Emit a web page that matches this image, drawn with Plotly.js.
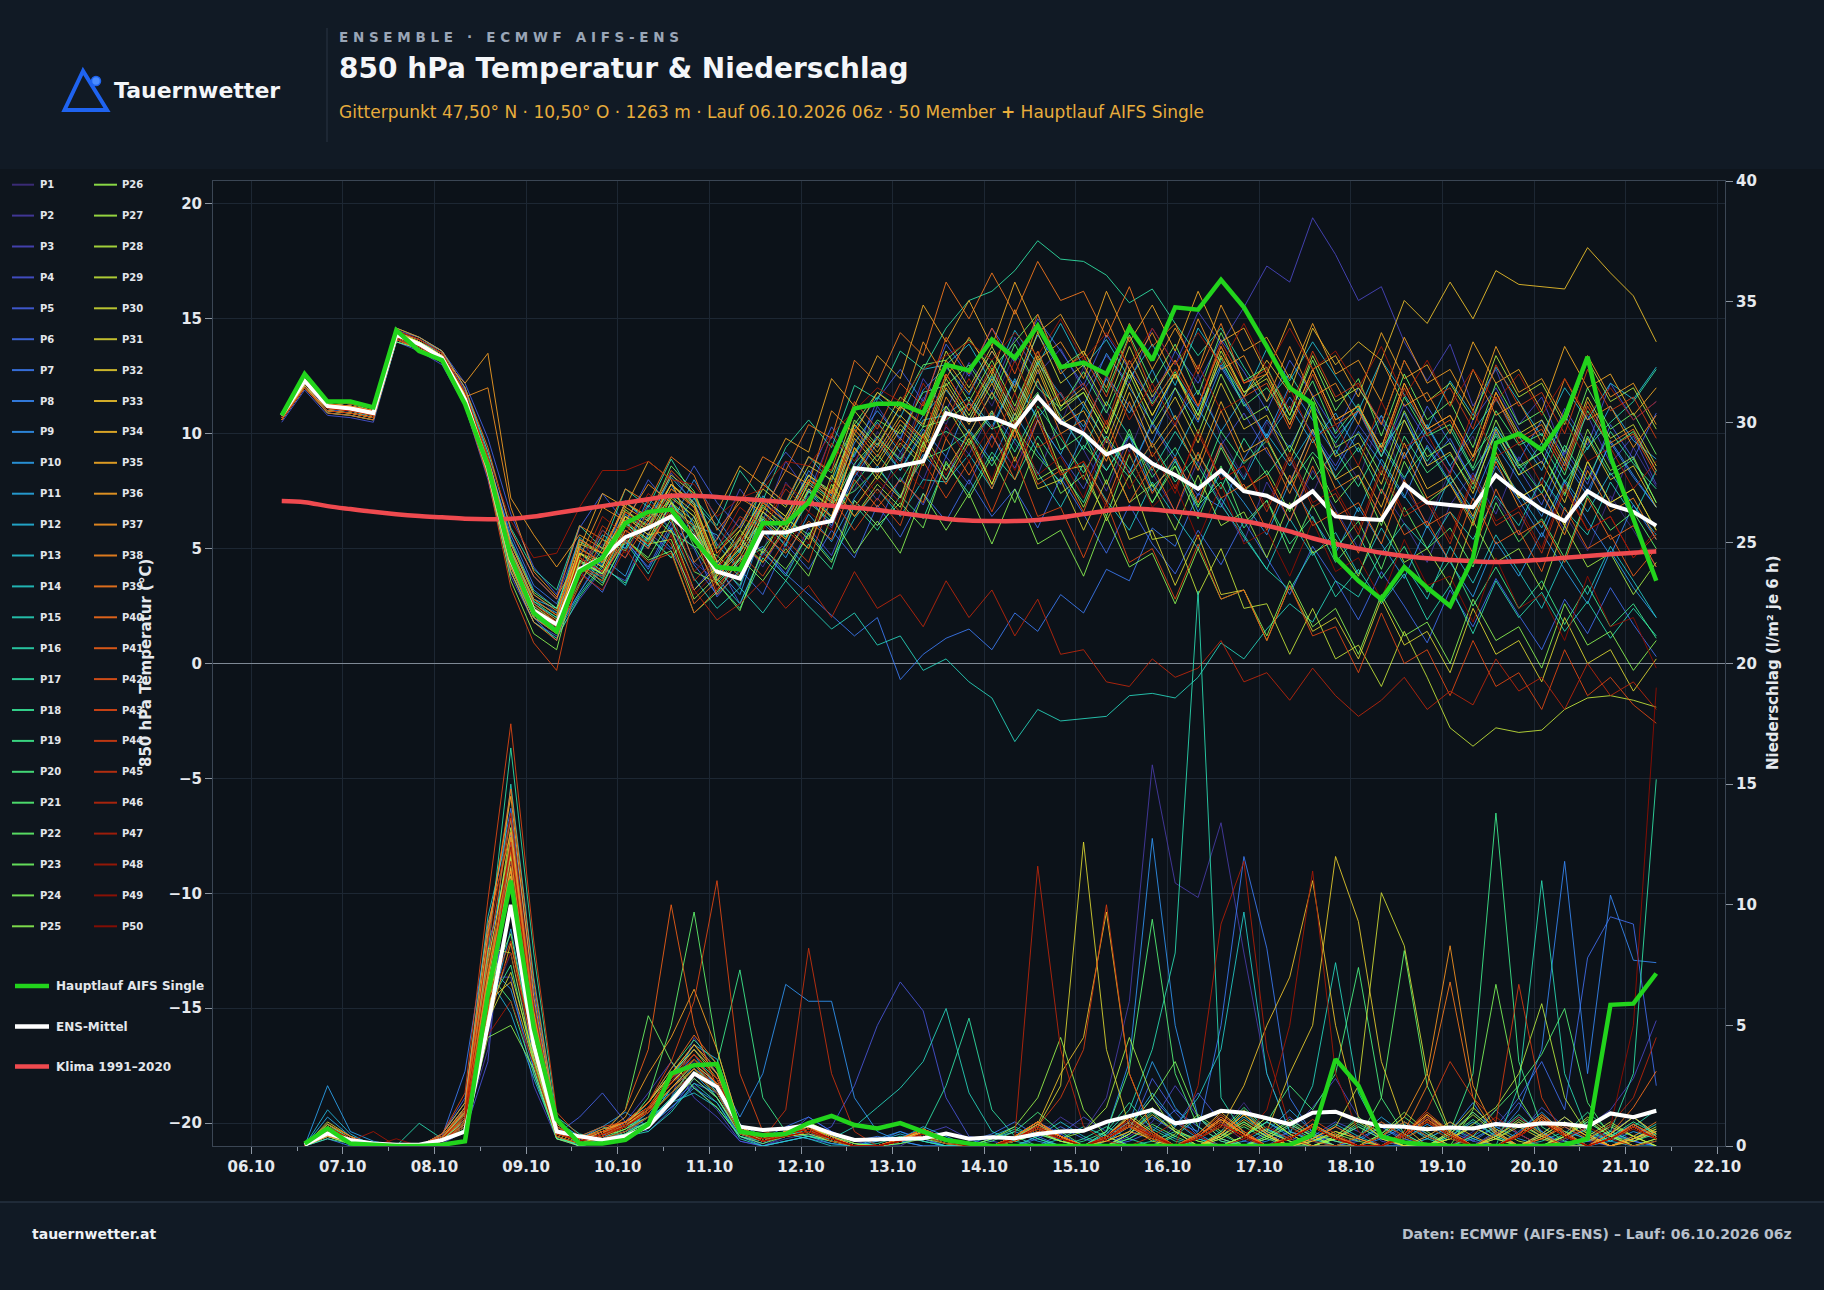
<!DOCTYPE html>
<html>
<head>
<meta charset="utf-8">
<script src="https://cdn.plot.ly/plotly-3.0.1.min.js"></script>
<style>
html,body{margin:0;padding:0;background:#0e151d;}
#chart{width:1824px;height:1290px;}
</style>
</head>
<body>
<div id="chart"></div>
<script>
// ---------- DATA ----------
// time grid: 61 six-hourly steps (local time), starting 06.10.2026 08:00
const runStart = [2026, 9, 6, 8];
const stepHours = 6;
const nSteps = 61;

// Hauptlauf AIFS Single, 850 hPa temperature (°C)
const hauptlaufTemp = [10.8,12.6,11.4,11.4,11.15,14.5,13.6,13.2,11.3,8.6,4.6,2.2,1.4,4.0,4.6,6.1,6.6,6.7,5.4,4.2,4.1,6.1,6.1,7.0,8.9,11.1,11.3,11.3,10.9,13.0,12.75,14.1,13.3,14.7,12.9,13.1,12.6,14.6,13.2,15.5,15.4,16.7,15.5,13.8,12.0,11.3,4.6,3.6,2.8,4.2,3.3,2.5,4.6,9.6,10.0,9.3,10.7,13.35,9.0,6.3,3.6];
// ENS mean temperature
const ensMeanTemp = [10.8,12.3,11.2,11.1,10.9,14.3,13.9,13.3,11.5,8.5,4.5,2.3,1.7,4.1,4.6,5.5,5.9,6.4,5.5,4.0,3.7,5.7,5.7,6.0,6.2,8.5,8.4,8.6,8.8,10.9,10.6,10.7,10.3,11.6,10.5,10.0,9.1,9.5,8.7,8.2,7.6,8.4,7.5,7.3,6.8,7.5,6.4,6.3,6.25,7.8,7.0,6.9,6.8,8.2,7.4,6.7,6.2,7.5,6.9,6.6,6.0];
// Klima 1991-2020
const climateTemp = [7.07,7.02,6.85,6.72,6.6,6.5,6.42,6.36,6.3,6.28,6.3,6.4,6.55,6.7,6.85,7.0,7.15,7.3,7.3,7.25,7.17,7.1,7.02,6.95,6.87,6.78,6.68,6.55,6.42,6.3,6.22,6.2,6.2,6.25,6.35,6.5,6.65,6.75,6.7,6.6,6.5,6.35,6.2,6.0,5.75,5.45,5.2,5.0,4.82,4.68,4.58,4.5,4.45,4.42,4.45,4.52,4.6,4.68,4.75,4.82,4.87];
// precipitation (l/m² per 6 h), steps 2..61
const hauptlaufPrecip = [0.1,0.73,0.1,0.05,0,0,0.05,0.2,6.3,11.0,4.9,1.1,0.1,0.1,0.25,0.9,3.0,3.35,3.4,0.6,0.45,0.5,0.95,1.25,0.87,0.73,0.95,0.6,0.25,0.1,0,0,0,0,0,0,0,0,0,0,0,0,0,0.05,0.46,3.6,2.5,0.4,0.15,0.05,0,0,0,0,0,0.05,0.3,5.85,5.9,7.15];
const ensMeanPrecip = [0.05,0.52,0.25,0.1,0.05,0.05,0.25,0.6,5.0,10.0,4.2,0.6,0.4,0.25,0.4,0.8,1.85,3.0,2.45,0.8,0.66,0.73,0.87,0.52,0.25,0.28,0.32,0.32,0.52,0.3,0.36,0.32,0.5,0.6,0.63,1.0,1.24,1.5,0.94,1.08,1.46,1.38,1.15,0.9,1.38,1.42,1.05,0.83,0.8,0.69,0.77,0.73,0.91,0.83,0.94,0.91,0.8,1.35,1.19,1.46];

// 50 perturbed members, temperature (61 values each)
const memberTemp = [
[10.6,12.0,11.0,10.9,10.7,14.1,13.8,13.2,11.8,9.0,5.2,3.0,2.2, 3.5,5.2,4.6,6.8,5.9,7.4,5.1,6.3,4.8,7.9,6.6,8.8,7.5,10.1,8.9,11.6,10.4, 12.8,11.2,13.5,12.1,10.4,12.9,11.0,9.2,11.7,10.3,12.6,9.8,8.1,10.5,8.8,7.4, 9.6,8.0,10.8,7.7,6.1,8.4,9.9,7.2,5.6,8.1,6.5,4.9,7.3,5.8,4.2],
[10.7,12.1,11.1,11.0,10.8,14.2,13.9,13.4,11.6,8.6,4.8,2.5,1.5, 3.1,4.8,6.2,5.0,6.9,4.4,3.6,5.5,4.2,6.0,7.3,5.9,8.4,7.1,9.2,8.0,10.3, 9.1,11.0,9.6,8.2,10.7,9.3,7.5,9.9,8.3,6.6,8.8,7.0,5.3,7.9,6.2,8.4, 6.7,5.0,7.6,6.1,4.4,6.9,8.3,6.5,9.0,7.4,5.8,8.6,7.0,9.4,7.7],
[10.8,12.2,11.3,11.2,11.0,14.4,14.0,13.5,11.9,9.2,5.8,3.8,2.8, 5.4,4.2,7.1,6.0,8.3,6.9,5.4,7.6,6.2,8.8,7.4,9.9,8.6,11.2,9.7,12.4,11.0, 13.1,11.8,14.2,12.6,13.7,11.9,13.4,12.2,14.6,13.0,15.3,13.9,15.5,17.3,16.6,19.4, 17.8,15.8,16.4,14.0,12.3,13.9,11.2,12.8,10.4,11.6,9.1,10.8,8.7,9.9,7.8],
[10.5,11.9,10.8,10.7,10.5,14.0,13.6,13.0,11.2,8.0,3.8,1.8,1.2, 2.8,4.1,3.6,5.7,4.9,3.2,4.4,2.6,4.8,3.9,5.9,4.7,7.1,6.0,8.1,6.9,9.0, 7.8,9.9,8.5,10.6,9.1,7.6,9.8,8.3,10.4,8.8,7.3,9.5,10.9,9.2,7.9,10.1, 8.6,10.4,9.0,11.3,9.7,8.3,10.6,12.0,10.2,8.7,11.1,9.5,12.2,10.6,11.4],
[10.9,12.4,11.4,11.3,11.1,14.5,14.2,13.6,12.2,9.8,6.5,4.2,3.0, 5.9,7.4,6.1,8.0,6.8,8.6,7.0,5.9,7.8,9.2,8.1,10.3,9.0,11.5,12.8,11.4,13.9, 12.5,14.6,13.1,15.0,13.6,12.1,14.3,12.8,11.4,13.6,12.2,14.1,12.7,11.0,13.2,11.7, 10.1,12.0,10.5,8.9,11.2,9.6,8.0,10.1,8.5,6.9,9.3,7.8,10.4,8.9,10.9],
[10.6,12.0,11.0,11.0,10.8,14.2,13.8,13.1,11.4,8.4,4.4,2.0,1.0, 4.0,3.1,5.3,4.2,6.1,5.0,2.9,4.1,3.0,5.2,4.1,5.8,4.6,6.9,5.5,7.4,6.2, 8.0,6.4,7.6,5.9,8.1,6.5,4.8,6.9,5.2,3.9,5.8,4.3,6.2,4.6,3.0,5.1, 3.6,1.9,4.0,2.5,0.9,3.2,1.6,3.7,2.1,0.6,2.8,1.3,3.3,1.7,0.3],
[10.7,12.2,11.1,11.0,10.8,14.3,13.9,13.4,11.6,8.8,5.6,3.4,2.6, 4.9,3.8,5.4,4.1,5.9,4.3,3.0,4.6,5.1,3.9,3.0,2.1,1.2,2.0,-0.7,0.4,1.1, 1.5,0.6,2.2,1.4,3.0,2.2,4.1,3.6,5.9,5.1,7.4,6.8,8.9,10.6,9.4,11.3, 9.8,11.0,9.0,10.9,8.6,9.8,7.9,10.3,8.8,10.6,9.0,7.5,9.6,8.1,6.8],
[10.8,12.3,11.2,11.2,10.9,14.3,14.0,13.3,11.6,8.5,4.6,2.4,1.6, 4.6,3.9,6.2,5.1,7.0,5.4,4.5,3.3,6.1,5.2,7.2,6.0,8.1,9.6,8.4,10.2,9.0, 11.4,10.2,12.3,10.7,11.8,10.1,12.5,11.2,9.6,12.0,10.5,12.9,11.3,9.8,11.6,10.0, 8.4,10.1,8.7,7.2,9.5,7.9,6.3,8.6,7.1,5.5,7.9,6.2,4.7,6.9,5.4],
[10.9,12.5,11.3,11.2,11.0,14.4,14.1,13.6,12.0,9.0,5.4,3.2,2.4, 4.0,5.8,5.0,7.2,6.1,8.0,6.3,4.9,7.3,6.2,8.4,7.3,9.6,11.0,9.8,11.9,12.9, 11.7,13.6,12.1,14.3,12.8,11.2,13.5,12.0,10.5,12.6,11.1,13.0,11.4,9.9,12.1,10.6, 9.1,11.0,9.4,8.0,10.3,8.6,7.1,9.5,8.0,6.4,8.8,7.3,9.7,8.2,6.8],
[10.6,12.1,10.9,10.8,10.6,14.0,13.7,13.1,11.2,8.2,4.0,2.0,1.4, 3.1,4.6,3.8,6.1,5.0,6.4,4.1,3.0,5.8,4.6,6.5,5.3,7.2,8.6,7.2,9.1,8.0, 10.2,8.8,10.9,9.2,7.8,10.0,8.4,9.9,7.5,8.9,6.6,8.3,7.0,5.6,7.9,6.3, 4.8,6.8,5.2,3.7,6.0,4.4,2.9,5.3,3.8,5.7,4.1,2.6,4.9,3.3,2.0],
[10.8,12.3,11.2,11.1,10.9,14.3,13.9,13.4,11.5,8.6,4.8,2.6,2.0, 5.1,4.3,6.5,5.8,7.8,6.0,5.6,4.0,7.1,6.1,8.2,7.0,9.1,10.5,9.2,10.8,11.9, 10.6,12.5,11.0,13.1,11.7,10.3,12.4,10.9,12.8,10.6,11.9,10.1,11.6,9.8,11.2,9.6, 10.9,9.2,10.8,9.0,10.4,8.6,10.1,11.5,9.9,8.4,10.8,9.3,11.2,9.7,8.9],
[10.7,12.2,11.1,11.0,10.8,14.2,13.8,13.2,11.5,8.7,4.9,2.7,2.2, 3.9,5.6,5.0,6.9,5.8,7.2,5.2,4.0,6.6,5.5,7.6,6.4,8.4,9.9,8.8,10.6,10.8, 11.6,10.3,12.4,10.6,9.1,11.2,9.7,8.3,10.5,9.0,11.1,9.5,8.0,10.0,8.6,10.2, 8.1,6.6,8.9,7.3,5.9,8.1,6.7,8.9,7.4,5.9,8.0,6.6,8.3,6.9,5.6],
[10.7,12.2,11.1,11.0,10.7,14.4,14.0,13.5,11.8,9.0,5.0,2.8,2.4, 5.5,4.6,7.0,6.2,8.1,7.0,5.9,4.8,7.9,6.9,9.0,7.9,10.2,11.6,10.7,12.8,13.0, 13.9,12.2,14.5,13.0,14.8,12.9,14.1,12.4,13.9,12.1,14.6,13.1,11.6,13.7,12.3,14.0, 12.5,11.0,13.2,11.7,10.2,12.3,10.8,12.9,11.4,9.9,12.0,10.6,12.2,11.5,12.9],
[10.8,12.4,11.3,11.2,10.9,14.3,13.9,13.3,11.5,8.4,4.3,2.1,1.3, 3.0,4.3,3.4,5.6,4.6,6.0,3.7,2.6,4.9,3.8,5.7,4.5,6.3,7.6,6.4,8.0,7.9, 9.1,7.6,9.8,8.3,6.8,8.7,7.1,5.8,7.9,6.4,5.0,7.2,5.6,4.1,6.3,4.7, 5.7,3.9,5.9,4.3,2.8,5.1,3.5,5.6,4.0,2.4,4.6,3.0,5.1,3.6,2.0],
[10.6,12.0,11.0,10.9,10.7,14.1,13.8,13.2,11.4,8.4,4.4,2.2,1.5, 4.5,3.5,5.3,3.9,5.8,3.7,2.4,3.3,2.2,3.6,2.5,1.5,2.2,0.8,1.2,-0.3,0.2, -0.8,-1.5,-3.4,-2.0,-2.5,-2.4,-2.3,-1.4,-1.3,-1.5,-0.6,0.9,0.2,1.5,2.6,1.8, 3.6,2.9,4.8,6.1,5.0,6.6,5.4,7.3,6.0,8.1,6.7,5.6,7.9,6.4,8.4],
[10.8,12.3,11.2,11.1,10.9,14.2,13.8,13.3,11.4,8.3,4.2,2.0,1.4, 4.5,3.7,6.0,5.1,7.0,5.7,3.9,4.9,6.3,5.1,7.5,6.3,8.3,9.8,8.4,10.0,11.2, 10.0,11.8,10.5,12.3,10.8,9.3,11.4,9.9,8.4,10.1,8.6,6.9,5.5,4.1,3.2,4.9, 2.9,4.1,2.6,3.9,1.9,3.4,1.3,3.6,2.0,3.1,1.4,2.7,1.1,2.4,1.2],
[10.9,12.5,11.4,11.3,11.1,14.6,14.2,13.6,12.0,9.2,5.9,4.1,3.2, 6.0,5.0,7.6,6.8,8.9,7.2,6.0,8.4,7.1,9.4,10.6,9.4,12.1,11.5,13.6,12.8,14.6, 15.8,16.2,17.1,18.4,17.6,17.5,16.9,15.7,16.3,14.8,13.4,14.6,12.9,11.4,12.6,11.0, 9.6,11.1,9.4,10.6,8.8,10.2,8.4,9.9,8.2,9.6,7.9,9.4,10.5,11.4,12.8],
[10.7,12.2,11.1,11.0,10.8,14.2,13.8,13.2,11.3,8.2,4.0,1.8,1.1, 2.9,4.2,3.5,5.5,4.6,5.9,3.5,2.4,4.6,3.6,5.2,4.1,6.9,5.8,7.3,6.3,8.7, 7.4,9.2,8.0,9.9,8.4,7.0,9.3,8.1,9.6,7.9,9.1,7.6,9.8,8.2,9.5,8.0, 9.3,7.7,9.6,8.1,9.4,7.8,9.0,10.3,8.7,7.4,9.5,8.0,10.1,8.7,7.6],
[10.8,12.3,11.2,11.1,10.9,14.3,13.9,13.3,11.6,8.6,4.6,2.4,1.8, 4.8,4.0,6.1,5.3,7.0,5.9,4.3,3.4,6.3,5.5,7.0,6.2,7.8,9.1,7.9,9.6,10.1, 9.5,10.9,9.2,11.2,9.8,8.3,9.9,8.5,7.0,8.8,6.9,7.9,5.9,7.1,5.2,6.4, 4.4,5.6,3.7,5.1,3.1,4.5,2.5,4.2,2.4,3.6,1.7,3.4,1.6,2.6,1.1],
[10.9,12.4,11.3,11.2,11.0,14.4,14.0,13.4,11.7,8.8,4.9,2.7,2.0, 4.0,5.4,4.9,6.6,5.7,5.1,3.5,4.5,5.0,6.3,5.6,7.0,7.5,8.5,7.3,8.9,9.3, 10.1,8.6,10.2,9.0,7.9,9.5,8.4,10.0,8.1,9.4,7.6,10.1,8.7,9.7,7.8,9.2, 8.1,9.4,7.4,9.9,8.3,9.1,7.6,10.0,8.5,9.2,7.3,9.9,8.2,8.9,7.0],
[10.6,12.1,11.0,10.9,10.7,14.1,13.7,13.1,11.3,8.3,4.2,2.0,1.3, 4.5,3.9,6.1,5.4,7.3,6.4,3.9,5.0,6.9,5.8,7.9,7.1,9.2,10.6,10.0,11.8,12.1, 13.0,11.5,13.9,12.0,11.1,12.7,10.9,13.2,11.3,12.7,10.8,13.3,11.2,12.0,10.6,12.3, 10.0,11.3,9.0,11.6,9.9,10.4,8.5,11.0,9.5,10.0,8.2,11.0,9.4,10.1,8.4],
[10.8,12.3,11.2,11.1,10.9,14.2,13.8,13.3,11.5,8.5,4.4,2.2,1.6, 3.5,5.0,5.2,6.3,7.1,5.1,4.7,3.8,6.6,5.8,7.5,6.8,8.7,9.8,8.9,10.3,10.6, 11.3,10.2,10.6,11.8,9.3,10.0,7.8,10.2,7.7,8.6,6.3,8.6,6.1,7.1,4.8,6.9, 5.0,6.2,4.1,6.8,5.0,5.9,4.2,7.0,5.3,6.3,4.6,7.3,5.8,6.6,5.0],
[10.7,12.2,11.1,11.0,10.8,14.3,13.9,13.4,11.6,8.7,5.3,3.1,2.4, 5.3,4.8,7.0,6.3,8.6,7.5,5.0,6.0,7.8,7.0,9.0,8.3,10.4,11.8,11.1,13.0,13.2, 14.1,12.8,14.0,15.2,12.9,13.6,11.8,14.3,12.2,13.9,11.7,14.4,12.3,12.9,10.8,13.2, 11.0,12.4,9.9,12.6,10.6,11.4,9.4,12.2,10.4,11.0,9.2,12.0,10.2,10.9,9.1],
[10.9,12.5,11.4,11.3,11.0,14.4,14.0,13.3,11.5,8.4,4.3,2.1,1.5, 4.2,3.4,5.4,4.6,6.3,4.0,3.5,2.3,5.0,4.1,5.6,4.4,7.1,6.0,7.0,5.9,8.8, 7.2,9.0,7.0,9.6,7.4,8.2,6.4,9.1,7.0,8.6,6.8,9.4,7.5,8.4,6.6,9.0, 7.0,8.2,6.0,8.8,7.0,7.8,6.2,9.0,7.2,7.8,6.0,8.8,7.0,7.6,5.8],
[10.6,12.0,10.9,10.8,10.6,14.0,13.7,13.2,11.3,8.3,3.6,1.3,0.6, 4.4,3.9,5.4,4.5,4.9,2.2,3.1,4.6,3.6,5.0,3.8,6.4,4.8,6.2,4.8,7.4,5.8, 7.4,5.2,7.6,5.2,5.8,3.8,6.4,4.2,4.8,2.6,5.0,2.8,3.2,1.2,3.6,1.6, 2.4,0.4,3.0,1.2,1.8,0.0,2.8,1.0,1.6,-0.2,2.6,0.8,1.4,-0.3,1.0],
[10.8,12.3,11.2,11.1,10.9,14.3,13.9,13.3,11.6,8.6,4.6,2.4,1.7, 5.0,4.4,6.7,5.9,7.8,6.9,4.4,5.5,7.2,6.4,8.2,7.5,10.6,9.5,11.2,10.3,13.0, 11.4,13.2,11.2,13.6,11.2,11.8,10.0,12.6,10.4,12.0,10.0,12.6,10.6,11.2,9.2,11.6, 9.4,10.0,8.2,11.0,9.0,9.6,7.8,10.6,8.6,9.2,7.4,10.2,8.4,9.0,7.0],
[10.7,12.2,11.1,11.0,10.8,14.2,13.8,13.2,11.4,8.4,4.4,2.2,1.5, 4.8,4.4,6.0,5.2,5.4,2.8,3.8,5.4,4.4,6.0,5.0,7.8,6.4,7.8,6.8,9.6,8.0, 9.8,7.8,10.4,8.0,8.6,6.8,9.2,7.0,7.8,5.8,8.2,6.0,6.6,4.6,7.0,4.8, 5.4,3.8,6.4,4.4,5.0,3.4,6.2,4.4,5.0,3.2,6.0,4.2,4.8,3.0,4.4],
[10.9,12.4,11.3,11.2,11.0,14.4,14.0,13.4,11.6,8.6,4.7,2.5,1.8, 4.8,4.2,6.4,5.8,7.6,6.8,4.2,5.2,7.0,6.2,8.0,7.2,10.2,9.0,10.6,9.6,12.4, 10.8,12.6,10.6,13.2,11.0,11.8,10.0,12.8,10.8,12.6,10.8,13.6,11.8,12.6,10.8,13.4, 11.4,12.0,10.4,13.2,11.4,12.2,10.6,13.4,11.6,12.2,10.4,13.2,11.4,12.0,10.2],
[10.7,12.1,11.0,10.9,10.7,14.2,13.8,13.2,11.4,8.4,4.3,2.1,1.4, 4.5,3.9,6.0,5.2,7.0,6.2,3.6,4.6,6.4,5.4,7.2,6.4,9.4,8.0,9.6,8.6,11.2, 9.6,11.0,8.8,11.0,8.4,8.6,6.2,8.2,5.4,5.6,3.0,5.0,2.4,2.6,0.4,2.4, 0.2,0.8,-1.0,1.4,-0.6,-2.8,-3.6,-2.8,-3.0,-2.9,-2.0,-1.5,-1.4,-1.6,-1.9],
[10.8,12.3,11.2,11.1,10.9,14.4,14.0,13.4,11.7,8.8,5.0,2.8,2.1, 5.4,4.8,7.0,6.4,8.2,7.4,4.8,5.8,7.6,6.8,8.6,8.0,11.0,9.8,11.6,10.8,13.6, 12.0,13.8,11.8,14.4,12.2,13.0,11.2,13.8,11.6,13.2,11.2,13.8,11.8,12.4,10.4,12.8, 10.6,11.2,9.4,12.2,10.2,10.8,9.0,11.8,10.0,10.6,8.8,11.6,9.8,10.4,8.6],
[10.6,12.0,11.0,10.9,10.7,14.1,13.7,13.2,11.4,8.5,4.5,2.3,1.6, 5.2,4.8,6.4,5.6,5.8,3.2,4.2,5.8,4.8,6.4,5.4,8.2,6.8,8.2,7.2,10.0,8.4, 10.0,7.8,10.2,7.6,8.0,5.8,8.0,5.4,5.8,3.4,5.6,3.0,3.2,1.0,3.4,1.4, 2.0,0.2,2.8,0.8,1.4,-0.4,2.4,0.4,1.0,-0.8,2.0,0.0,0.6,-1.2,0.2],
[10.8,12.3,11.2,11.1,10.9,14.3,13.9,13.3,11.5,8.5,4.5,2.3,1.6, 4.8,4.2,6.4,5.6,7.4,6.6,4.0,5.0,6.8,6.0,7.8,7.0,10.0,8.8,10.4,9.4,12.2, 10.6,12.4,10.4,13.0,10.6,11.4,9.6,12.2,10.0,11.6,9.6,12.2,10.2,10.8,8.8,11.2, 9.0,9.6,7.8,10.6,8.6,9.2,7.4,10.2,8.2,8.8,7.0,9.8,8.0,8.6,6.8],
[10.9,12.4,11.3,11.2,11.0,14.4,14.0,13.4,11.7,8.7,4.8,2.6,1.9, 5.0,4.4,6.6,6.0,7.8,7.0,4.4,5.4,7.2,6.4,8.2,7.4,10.4,9.2,10.8,9.8,12.6, 11.0,12.8,10.8,13.4,11.2,12.0,10.2,12.8,10.8,12.6,10.6,13.4,11.6,13.2,11.8,14.6, 13.0,14.0,13.2,15.8,14.8,16.6,15.0,17.1,16.5,16.4,16.3,18.1,17.0,16.0,14.0],
[10.7,12.2,11.1,11.0,10.8,14.2,13.8,13.2,11.4,8.4,4.4,2.2,1.5, 4.6,4.0,6.2,5.4,7.2,6.4,3.8,4.8,6.6,5.8,7.6,6.8,9.8,8.6,10.2,9.2,12.0, 10.4,12.2,10.2,12.8,10.4,11.0,9.2,11.8,9.4,10.8,8.8,11.4,9.2,9.8,7.8,10.2, 8.0,8.6,6.8,9.6,7.6,8.2,6.4,9.2,7.2,7.8,6.0,8.8,7.0,7.6,5.8],
[10.8,12.4,11.3,11.2,11.0,14.4,14.1,13.5,11.8,9.0,5.2,3.0,2.3, 5.0,7.4,6.8,8.8,8.0,5.4,6.6,8.6,7.8,9.8,9.2,12.4,11.2,13.4,12.4,15.6,14.0, 15.8,13.8,16.6,14.4,15.2,13.4,16.2,14.0,15.6,13.6,16.2,14.0,14.6,12.6,15.0,12.8, 13.4,11.6,14.4,12.4,13.0,11.2,14.0,12.2,12.8,11.0,13.8,12.0,12.6,10.8,12.0],
[10.8,12.3,11.2,11.1,10.9,14.3,13.9,13.3,12.2,13.5,7.2,5.6,4.2, 5.6,5.0,6.8,6.2,7.8,6.8,4.2,5.2,7.0,6.2,8.0,7.4,10.4,9.4,11.2,10.4,13.2, 11.8,13.6,12.0,14.8,12.6,13.6,12.0,14.8,12.8,14.6,12.8,15.6,13.6,14.2,12.4,14.8, 12.6,13.2,11.4,14.2,12.2,12.8,11.0,13.8,11.8,12.4,10.6,13.4,11.6,12.2,10.4],
[10.7,12.2,11.1,11.0,10.8,14.2,13.8,13.2,11.6,12.0,6.8,4.0,2.9, 4.6,6.8,6.2,7.8,7.0,4.4,5.4,7.2,6.6,8.4,7.8,11.0,10.0,11.8,11.0,14.0,12.4, 14.2,12.6,15.4,13.2,14.0,12.4,15.0,12.8,14.4,12.4,15.0,12.8,13.4,11.4,13.8,11.6, 12.2,10.4,13.2,11.2,11.8,10.0,12.8,10.8,11.4,9.6,12.4,10.6,11.2,9.4,10.8],
[10.6,12.1,11.0,10.9,10.7,14.1,13.7,13.2,11.3,8.2,4.0,1.8,1.0, 4.2,3.6,5.8,5.0,6.8,6.0,3.4,4.4,6.2,5.4,7.2,6.4,9.4,8.2,9.8,8.8,11.6, 10.0,11.8,9.8,12.4,10.0,10.6,8.8,11.4,9.0,10.4,8.4,11.0,8.8,9.4,7.4,9.8, 7.6,8.2,6.4,9.2,7.2,7.8,6.0,8.8,6.8,7.4,5.6,8.4,6.6,7.2,5.4],
[10.9,12.6,11.4,11.3,11.1,14.6,14.2,13.6,12.0,9.4,5.8,3.8,2.8, 6.0,5.4,7.6,7.0,9.0,8.2,5.8,7.0,9.0,8.4,10.4,9.8,13.2,12.2,14.4,13.4,16.6, 15.0,17.0,15.2,17.5,15.8,16.2,14.2,16.4,13.8,14.8,12.6,14.8,12.2,12.6,10.4,12.8, 10.6,11.2,9.4,12.2,10.2,10.8,9.0,11.8,9.8,10.4,8.6,11.4,9.6,10.2,8.4],
[10.7,12.2,11.1,11.0,10.8,14.2,13.8,13.2,11.5,8.5,4.5,2.3,1.6, 4.6,4.0,5.8,5.2,6.6,5.6,3.0,4.0,5.6,4.8,6.2,5.4,8.0,6.8,8.0,7.0,9.8, 8.2,10.0,8.0,10.6,8.2,8.8,7.0,9.6,7.4,9.0,7.0,9.6,7.6,8.2,6.2,8.6, 6.4,7.0,5.2,8.0,6.0,6.6,4.8,7.6,5.6,6.2,4.4,7.2,5.4,6.0,4.2],
[10.8,12.3,11.2,11.1,10.9,14.3,13.9,13.3,11.4,8.3,4.2,2.0,1.3, 3.4,5.4,4.6,6.2,5.2,2.6,3.6,5.2,4.4,5.8,5.0,7.6,6.4,7.6,6.6,9.4,7.8, 9.6,7.6,10.2,7.8,8.4,6.6,9.2,7.0,8.6,6.6,9.2,7.2,7.8,5.8,8.2,6.0, 6.6,4.8,7.6,5.6,6.2,4.4,7.2,5.2,5.8,4.0,6.8,5.0,5.6,3.8,5.0],
[10.9,12.5,11.4,11.3,11.1,14.5,14.1,13.5,11.8,8.9,5.0,2.8,2.1, 5.4,4.8,7.0,6.4,8.4,7.4,4.8,6.0,7.8,7.0,9.0,8.4,11.4,10.2,12.2,11.2,14.2, 12.6,14.6,12.6,15.2,12.8,13.4,11.6,14.2,11.8,13.2,11.2,13.8,11.6,12.2,10.2,12.6, 10.4,11.0,9.2,12.0,10.0,10.6,8.8,11.6,9.6,10.2,8.4,11.2,9.4,10.0,8.2],
[10.6,12.0,10.9,10.8,10.6,14.1,13.7,13.1,11.2,8.1,3.3,0.9,-0.3, 4.2,3.8,5.4,4.4,4.8,2.2,3.2,4.8,3.8,5.4,4.4,7.2,5.8,7.2,6.0,8.8,7.2, 8.8,6.6,9.0,6.4,6.8,4.6,7.0,4.4,5.0,2.8,5.2,2.8,3.2,1.0,3.4,1.2, 1.6,-0.4,2.2,0.0,0.6,-1.4,1.0,-1.0,-0.4,-2.0,0.6,-1.4,-0.6,-1.8,-2.6],
[10.8,12.4,11.3,11.2,11.0,14.3,13.9,13.4,11.6,8.6,4.6,2.4,1.8, 5.0,4.4,6.6,5.8,7.6,6.8,4.2,5.2,7.0,6.2,8.0,7.2,10.2,9.0,10.6,9.8,12.6, 11.0,13.0,11.0,13.6,11.4,12.2,10.4,13.2,11.2,12.8,11.2,14.0,12.2,12.8,11.0,13.6, 11.6,12.2,10.4,13.2,11.4,12.0,10.2,13.0,11.2,11.8,10.0,12.8,11.0,11.6,9.8],
[10.7,12.2,11.1,11.0,10.8,14.2,13.8,13.2,11.4,8.4,4.3,2.1,1.4, 3.8,6.0,5.2,7.0,6.2,3.6,4.6,6.4,5.8,7.6,6.6,9.6,8.2,9.8,8.6,11.4,9.8, 11.4,9.4,11.8,9.4,10.0,8.0,10.6,8.2,9.6,7.6,10.0,8.0,8.6,6.6,9.0,6.8, 7.4,5.6,8.4,6.4,7.0,5.2,8.0,6.0,6.6,4.8,7.6,5.8,6.4,4.6,5.6],
[10.6,12.0,11.0,10.9,10.7,14.1,13.8,13.2,11.3,8.3,4.8,2.6,1.8, 3.9,3.2,5.0,3.6,5.6,3.2,1.9,2.6,3.6,2.4,3.4,2.0,4.0,2.4,3.0,1.6,3.6, 2.0,3.2,1.2,2.8,0.4,0.6,-0.8,-1.0,0.2,-0.6,-0.2,1.0,-0.8,-0.4,-1.6,-0.2, -1.4,-2.3,-1.6,-0.6,-2.0,-1.2,-1.8,0.2,-1.2,-0.6,-2.0,0.0,-1.4,-0.8,-2.0],
[10.8,12.3,11.2,11.1,10.9,14.3,13.9,13.3,11.5,8.5,4.5,2.3,1.6, 4.2,6.4,5.6,7.4,6.6,4.0,5.0,6.8,6.0,7.8,7.0,10.0,8.8,10.4,9.4,12.2,10.6, 12.4,10.6,13.2,11.0,11.8,10.0,12.6,10.6,12.2,10.4,13.0,11.0,11.6,9.6,12.0,9.8, 10.4,8.6,11.4,9.4,10.0,8.2,11.0,9.0,9.6,7.8,10.6,8.8,9.4,7.6,8.8],
[10.9,12.5,11.4,11.3,11.1,14.5,14.1,13.5,11.8,9.0,6.2,4.6,4.8, 6.8,8.4,8.4,8.8,8.0,7.8,6.4,7.2,7.6,8.8,8.6,10.0,11.0,12.0,11.4,12.8,13.4, 14.0,13.2,14.4,13.4,15.0,13.2,14.4,13.0,14.6,13.0,14.4,13.0,14.8,12.8,14.6,12.8, 13.6,12.0,13.8,11.6,13.2,11.2,12.8,11.4,12.6,10.8,12.4,10.8,12.0,10.6,11.4],
[10.7,12.2,11.1,11.0,10.8,14.2,13.8,13.2,11.4,8.4,4.4,2.2,1.5, 3.6,5.8,4.8,6.6,5.6,3.0,4.0,5.6,4.6,6.2,5.2,8.0,6.8,8.0,7.0,9.8,8.2, 10.0,8.0,10.6,8.2,9.0,7.2,9.8,7.6,9.2,7.4,10.2,8.0,8.6,6.8,9.2,7.0, 7.6,5.8,8.6,6.6,7.2,5.4,8.2,6.2,6.8,5.0,7.8,5.8,6.4,4.6,5.8],
[10.8,12.3,11.2,11.1,10.9,14.3,13.9,13.3,11.5,8.5,4.5,2.3,1.6, 4.6,4.0,6.0,5.2,6.8,5.8,3.2,4.2,6.0,5.0,6.6,5.8,8.6,7.4,8.6,7.6,10.4, 8.8,10.4,8.4,10.8,8.2,8.8,6.8,9.2,6.8,7.8,5.4,7.8,5.2,5.8,3.8,6.2, 4.0,4.6,2.8,5.4,3.4,3.8,1.8,4.6,2.4,3.0,1.0,3.8,1.6,2.0,-0.2]
];

// 50 perturbed members, precipitation (60 values each, steps 2..61)
const memberPrecip = [
[0,0.4,0.1,0,0,0,0.3,1.2,5.5,8.0,3.8,0.6, 0.2,0.4,0.8,1.5,2.8,3.5,2.2,0.5,0.2,0.6,0.8,0.3,0,0,0.2,0.4,0.1,0, 0,0.3,0.8,0.2,0,0.5,1.2,0.4,0,0,0.6,1.8,0.5,0,0.2, 0.8,0.3,0,0,0.4,1.0,0.3,0,0,0.5,0.2,0,0.6,1.2,0.4],
[0,0.6,0.2,0,0,0,0.2,0.8,4.0,12.5,5.2,0.4, 0,0.2,0.5,1.0,2.0,4.5,3.0,0.6,0,0.3,0.5,0.2,0,0,0.3,0.6,0.2,0, 0,0,0.4,1.2,0.6,2.0,6.0,15.8,10.9,10.3,13.4,8.0,3.0,0.6,0.2, 0,0.4,1.0,0.3,0,0,0.6,1.5,0.5,0,0,0.3,0.8,0.2,0],
[0,0.8,0.2,0,0,0,0.4,1.5,7.0,7.0,2.5,0.3, 0,0.3,1.0,2.2,3.5,2.0,1.2,0.2,0,0.4,1.2,0.6,0.2,0,0,0.5,0.8,0.3, 0,0.2,0.6,0.2,0,0,0.4,1.0,2.5,1.2,0.3,0,0,0.6,1.6, 2.8,1.2,0.2,0,0,0.5,1.4,0.6,0,0,0.2,0.8,1.5,2.8,5.2],
[0,0.5,0.1,0,0,0,0.1,0.6,3.5,13.0,6.0,0.8, 0.3,0.1,0.2,0.8,1.6,2.5,1.5,0.2,0,0.2,0.4,0.8,2.5,5.0,6.8,5.6,2.0,0.4, 0.2,0,0,0.5,1.2,0.6,0,0,0.8,2.2,1.0,0.2,0,0,0.4, 1.0,0.6,0,0,0.3,0.8,0.2,0,0.5,1.6,0.8,0.2,0,0.3,0.6],
[0,0.4,0.2,0,0,0,0.5,2.0,8.5,11.0,3.0,0.5, 1.2,2.2,1.0,0.6,1.5,2.8,2.0,0.4,0.1,0.5,0.3,0.1,0,0.2,0.6,0.3,0,0, 0,0.4,1.0,0.5,0,0,0.6,2.8,1.4,0.4,0,0,0.5,1.2,0.4, 0,0,0.4,1.0,0.5,0,0,0.6,1.8,0.6,0,0.2,0.5,0.2,0],
[0,0.7,0.3,0,0,0,0.2,1.0,6.0,12.0,4.5,0.6, 0.2,0.5,0.3,1.0,2.4,3.2,2.6,0.8,0.3,0.6,0.9,0.4,0.1,0,0.2,0.3,0,0, 0,0,0.3,0.8,0.3,0,0.2,0.6,1.5,0.8,0.2,0,0.3,0.9,0.4, 0.2,0,0,0.4,1.2,0.6,0.2,0.8,2.0,3.5,1.5,7.8,9.5,9.2,2.5],
[0,0.3,0,0,0,0,0.4,3.1,9.0,14.0,6.5,1.0, 0.4,0.2,0.5,1.2,1.8,2.6,2.2,0.6,0.3,0.8,1.2,0.6,0.2,0.4,0.2,0,0,0.2, 0.5,1.0,0.4,0,0,0.3,0.8,2.0,1.0,0.6,5.0,12.0,8.2,2.0,0.5, 0,0.2,0.8,0.3,0,0,0.4,1.0,0.5,0,0,0.3,0.6,0.2,0],
[0,0.5,0.2,0,0,0,0.3,1.4,6.5,11.5,4.0,0.4, 0,0.3,0.6,1.4,2.6,3.8,2.4,0.5,0.2,0.4,0.6,0.3,0,0,0.2,0.5,0.3,0, 0,0.2,0.6,0.3,0,0,0.5,1.2,0.6,0,0,0.4,1.0,0.4,0, 0,0.3,0.8,0.2,0,0.6,1.8,0.4,1.5,4.0,11.8,3.0,10.4,7.7,7.6],
[0,0.6,0.2,0,0,0,0.2,1.1,7.5,6.5,3.2,0.3, 0.1,0.4,0.9,1.8,3.0,4.0,3.0,1.2,3.0,6.7,6.0,6.0,2.0,0.6,0.2,0,0,0, 0,0.3,0.9,0.4,0,0.6,3.5,12.75,5.0,1.2,0.3,0,0.2,0.6,0.3, 0,0,0.3,0.8,0.4,0,0,0.5,1.2,0.6,0,0,0.4,0.9,0.3],
[0,2.5,0.6,0.2,0,0,0.4,1.6,8.0,12.5,4.8,0.7, 0.3,0.8,1.4,0.8,1.6,2.4,1.8,0.4,0,0.2,0.4,0.2,0,0.3,0.6,0.2,0,0, 0.3,0.6,0.2,0,0,0.4,1.0,3.5,1.6,0.5,0,0,0.6,1.5,0.6, 0.2,0,0,0.3,0.9,0.4,0,0,0.6,1.4,0.5,0,0.2,0.6,0.3],
[0,1.2,0.4,0.1,0,0,0.3,0.9,5.0,9.0,4.0,0.5, 0.2,0.6,1.0,1.6,2.2,3.0,2.0,0.6,0.2,0.5,0.8,0.4,0,0,0.3,0.8,0.4,0, 0,0.4,0.8,0.3,0,0.2,0.8,2.2,1.0,0.3,0,0.2,0.7,0.3,0, 0,0.4,1.2,0.5,0,0,0.3,0.8,0.3,0,0.4,1.0,0.4,0,0.2],
[0,1.5,0.5,0,0,0,0.2,1.2,7.0,5.5,2.8,0.4, 0,0.2,0.6,1.2,2.8,4.2,3.6,0.9,0.4,0.6,0.4,0.1,0,0.2,0.5,0.2,0,0.1, 0.4,0.8,0.3,0,0,0.3,0.9,0.4,0,0,0.5,1.4,0.6,0.2,0, 0.3,0.8,0.3,0,0,0.4,1.0,0.4,0,0,0.3,0.7,0.2,0,0],
[0,0.9,0.3,0,0,0,0.3,1.3,7.8,11.8,4.4,0.6, 0.1,0.3,0.5,1.0,2.0,3.4,2.6,0.7,0.2,0.4,0.7,0.3,0,0,0.1,0.4,0.2,0, 0,0,0.4,1.0,0.4,0,0.3,0.8,0.3,0,0.4,1.2,0.5,0,0.3, 0.9,0.4,0,0,0.3,0.8,0.3,0,0,0.5,1.2,0.5,0,0.3,0.6],
[0,0.8,0.3,0,0,0,0.5,1.8,9.5,13.5,5.5,0.8, 0.3,0.6,0.8,1.2,1.8,2.2,1.6,0.4,0.2,0.5,0.3,0,0,0,0.3,0.6,0.2,0, 0,0.3,0.6,0.2,0,0,0.5,1.5,0.8,2.0,4.0,9.7,3.0,0.6,0.2, 0,0,0.4,0.9,0.3,0,0,0.4,1.0,0.4,0,0,0.5,1.2,0.4],
[0,0.6,0.2,0,0,0,0.2,0.8,6.0,15.0,7.0,1.0, 0.4,0.8,0.4,0.6,1.4,2.6,1.8,0.3,0,0.2,0.4,0.3,0.8,1.6,2.4,3.5,5.7,2.2, 0.6,0.2,0,0.3,0.8,0.4,0,0.2,0.6,0.3,0,0.4,1.0,0.5,2.5, 7.6,2.2,0.4,0,0,0.3,0.8,0.3,0,0.2,0.6,0.3,0,0.4,0.9],
[0,0.5,0.2,0,0,0.94,0.3,1.0,5.5,9.8,3.6,0.4, 0,0.2,0.5,1.0,2.4,3.4,2.2,0.6,0.3,0.6,0.9,0.4,0,0,0.2,0.5,0.2,0, 0,0.3,0.8,0.4,0,0.5,1.5,4.0,8.0,23.0,2.0,0.5,0,0.3,0.8, 0.4,0,0,0.5,1.2,0.5,0,0,2.5,11.0,3.0,0.6,0.2,0.8,1.5],
[0,0.4,0.1,0,0,0,0.4,1.5,8.0,16.5,8.0,1.2, 0.5,0.3,0.6,1.0,2.0,3.0,2.6,0.6,0.2,0.5,0.8,0.4,0,0,0.2,0.6,2.5,5.3, 1.5,0.4,0,0,0.3,0.8,0.3,0,0.4,1.2,0.5,0,0.3,0.8,0.3, 0,0,0.4,1.0,0.4,0,0,0.5,1.3,0.5,0,0.2,0.6,3.0,15.2],
[0,0.7,0.2,0,0,0,0.2,0.9,5.8,7.5,3.4,0.5, 0.2,0.5,0.8,1.4,2.6,3.6,2.8,0.7,0.2,0.4,0.6,0.2,0,0.1,0.4,0.2,0,0, 0.3,0.7,0.3,0,0.2,0.6,1.8,0.7,0.2,0,0.4,1.0,0.4,0,0, 0.3,0.9,0.4,0,0,0.4,1.1,0.4,0,0,0.5,1.4,0.6,0.2,0.5],
[0,0.3,0.1,0,0,0,0.3,1.1,6.8,12.0,4.6,0.6, 0.3,0.6,1.0,1.8,3.2,4.4,3.4,7.3,2.0,0.6,0.4,0.2,0,0,0.3,0.7,0.3,0, 0,0.2,0.5,0.2,0,0.3,0.9,0.4,0,0,0.6,1.6,0.7,0.2,0, 0.4,1.2,0.5,0,0,0.6,3.0,13.8,3.5,0.8,0.2,0,0.4,1.0,0.5],
[0,0.9,0.3,0,0,0,0.4,1.3,7.2,6.0,3.0,0.3, 0.1,0.3,0.7,1.4,2.4,3.2,2.0,0.5,0.2,0.5,0.7,0.3,0,0,0.2,0.5,0.2,0, 0.2,0.6,1.4,0.6,0,0,0.5,1.4,0.6,0.2,0,0.4,1.0,2.5,1.5, 3.0,7.4,2.0,0.5,0,0.3,0.8,0.3,0,0.4,1.0,0.4,0,0.3,0.7],
[0,0.6,0.2,0,0,0,0.3,1.2,6.2,11.0,4.2,0.5, 0.2,0.4,0.8,1.6,2.8,3.8,2.8,0.7,0.3,0.6,0.8,0.3,0,0,0.2,0.5,0.3,0, 0,0.3,0.7,0.3,0,0.6,3.2,9.4,3.0,0.8,0.2,0,0.4,1.0,0.4, 0,0,0.5,1.2,0.5,0,0.4,1.5,2.5,3.8,5.7,1.8,0.4,0.2,0.6],
[0,0.5,0.2,0,0,0,0.2,0.7,4.8,12.2,5.4,0.7, 0.2,0.4,0.8,2.0,5.0,9.7,4.0,0.8,0.3,0.5,0.7,0.3,0,0,0.3,0.7,0.3,0, 0,0.4,1.0,0.4,0,0,0.3,0.9,0.4,0,0.3,0.8,0.3,0,0.2, 0.6,0.3,2.0,8.1,2.5,0.5,0,0.3,0.9,0.4,0,0,0.5,1.2,0.5],
[0,0.4,0.1,0,0,0,0.3,1.0,6.6,8.8,3.9,0.5, 0.2,0.5,1.5,5.4,3.5,2.4,1.6,0.4,0.1,0.4,0.6,0.3,0,0,0.2,0.4,0.1,0, 0,0.2,0.6,0.3,0,0.4,1.2,0.5,0,0,0.5,1.3,0.5,0,0, 0.3,0.8,0.3,0,0,0.5,1.4,0.6,0,0,0.4,1.0,0.4,0,0.3],
[0,0.8,0.3,0,0,0,0.4,1.4,7.4,12.8,5.0,0.6, 0.3,0.7,1.0,1.6,2.6,3.4,2.4,0.6,0.2,0.5,0.8,0.4,0.1,0,0.2,0.6,0.3,0, 0,0.4,0.9,0.4,0,0.3,0.8,2.0,3.5,1.2,0.3,0,0.4,1.1,0.5, 0.2,0,0.4,1.0,0.4,0,1.5,6.7,2.0,0.5,0,0.3,0.9,0.4,0],
[0,0.5,0.2,0,0,0,0.2,0.6,4.5,5.0,3.2,0.3, 0,0.2,0.5,1.0,1.8,2.8,2.0,0.5,0.2,0.4,0.6,0.2,0,0,0.1,0.3,0.1,0, 0,0.2,0.5,0.2,0,0.3,0.8,0.3,0,0,0.4,1.0,0.4,0,0.2, 0.5,0.2,0,0.3,0.8,0.3,0,0,0.5,1.2,0.5,0,0.3,0.8,0.3],
[0,0.6,0.2,0,0,0,0.3,1.2,6.8,11.5,4.3,0.5, 0.2,0.5,0.9,1.8,3.0,4.0,2.8,0.6,0.2,0.4,0.6,0.3,0,0,0.3,0.6,0.2,0, 0.3,0.8,2.0,4.5,1.5,0.4,0,0,0.5,1.3,0.6,0,0.3,0.9,0.4, 0,0,0.5,1.4,0.6,0,0,0.4,1.1,0.5,0,0.3,0.8,0.4,0],
[0,0.7,0.3,0,0,0,0.4,1.6,8.2,8.0,3.5,0.4, 0.1,0.4,0.7,1.2,2.2,3.0,2.2,0.5,0.3,0.6,1.0,0.5,0.1,0,0.2,0.5,0.2,0, 0,0.3,0.7,0.3,0.6,1.6,4.5,2.0,0.6,0,0,0.4,1.2,0.5,0, 0.3,1.0,0.4,0,0,0.5,1.3,0.5,0,0,0.4,1.1,0.4,0,0.2],
[0,0.9,0.4,0,0,0,0.2,1.0,5.6,12.0,4.9,0.6, 0.2,0.5,0.8,1.5,2.6,3.6,2.6,0.7,0.3,0.5,0.7,0.3,0,0,0.2,0.5,0.2,0, 0,0.3,0.8,0.3,0,0.2,0.6,1.6,0.7,0.2,0,0.4,1.2,0.5,0, 0,0.4,1.0,0.4,0,0.3,0.9,1.6,3.0,5.9,2.0,0.5,0,0.3,0.8],
[0,0.4,0.1,0,0,0,0.3,1.3,7.0,13.2,5.6,0.8, 0.3,0.6,0.9,1.4,2.4,3.2,2.4,0.6,0.2,0.4,0.5,0.2,0,0,0.3,0.7,0.3,0, 0,0.2,0.6,0.2,0,0.4,1.3,0.6,0,0,0.5,1.5,0.6,0.2,0, 0.4,1.1,0.5,0,0,0.6,1.6,0.7,0.2,0,0.4,1.2,0.5,0,0.3],
[0,0.6,0.2,0,0,0,0.2,0.8,5.2,7.2,3.7,0.4, 0.1,0.3,0.6,1.2,2.2,3.2,2.4,0.6,0.2,0.5,0.7,0.3,0,0,0.2,0.4,0.2,0, 0,0.4,1.0,0.4,0,0,0.5,1.3,0.6,0,0.3,0.9,0.4,0,0.3, 0.8,2.5,10.5,8.3,3.0,0.6,0,0.3,0.8,0.3,0,0.4,1.0,0.4,0],
[0,1.0,0.4,0,0,0,0.3,1.2,6.4,11.2,4.4,0.5, 0.2,0.5,0.9,1.6,2.8,3.8,2.8,0.7,0.3,0.6,0.8,0.4,0,0,0.2,0.6,0.3,0, 0,0.3,0.8,2.5,12.6,4.0,0.8,0.2,0,0.4,1.1,0.5,0,0.3,0.8, 0.3,0,0,0.5,1.3,0.6,0,0,0.4,1.0,0.4,0,0.3,0.8,0.3],
[0,0.5,0.2,0,0,0,0.4,1.4,7.6,12.4,4.8,0.6, 0.2,0.6,1.0,1.8,3.0,4.2,3.0,0.8,0.3,0.5,0.7,0.3,0,0,0.2,0.5,0.2,0, 0,0.3,0.7,0.3,0,0.3,0.9,0.4,0,0,0.5,1.3,0.6,3.0,5.0, 12.0,9.3,3.5,0.8,0,0.3,0.8,0.3,0,0.4,1.0,0.4,0,0.3,0.7],
[0,0.7,0.3,0,0,0,0.3,1.1,6.0,6.8,3.4,0.4, 0.1,0.4,0.8,1.4,2.6,3.6,2.6,0.6,0.2,0.4,0.6,0.3,0,0,0.2,0.4,0.1,0, 0,0.3,0.9,3.0,4.5,9.7,3.0,0.6,0,0.3,0.8,2.5,5.0,7.0,11.0, 5.0,1.2,0.3,0,0.4,1.0,0.4,0,0,0.5,1.2,0.5,0,0.2,0.6],
[0,0.8,0.3,0,0,0,0.2,1.0,5.4,11.6,4.6,0.6, 0.2,0.5,0.8,1.4,2.4,3.4,2.6,0.7,0.3,0.6,0.8,0.3,0,0,0.3,0.6,0.2,0, 0,0.3,0.8,0.4,0,0.4,1.2,0.5,0,0,0.4,1.1,0.5,0,0.2, 0.6,0.3,0,0.4,1.1,0.5,0,0,0.5,1.3,0.6,0,0.3,0.9,0.4],
[0,0.6,0.2,0,0,0,0.3,1.5,8.8,14.5,6.2,0.9, 0.3,0.6,0.9,1.5,2.6,3.4,2.4,0.6,0.2,0.5,0.7,0.3,0,0,0.2,0.6,0.3,0, 0,0.4,1.0,0.4,0,0.3,0.8,0.3,0,0.5,1.4,0.6,0,0.3,0.9, 0.4,0,0,0.5,1.3,0.5,0,0.4,1.0,0.4,0,0,0.5,1.2,0.5],
[0,0.5,0.2,0,0,0,0.2,0.9,5.0,8.4,3.9,0.5, 0.2,0.5,1.2,3.0,4.5,6.5,4.0,0.8,0.3,0.5,0.7,0.3,0,0,0.2,0.5,0.2,0, 0,0.3,0.7,0.3,0,0.2,0.6,0.3,0,0.4,1.0,0.4,0,0.3,0.8, 0.3,0,0,0.4,1.0,0.4,0,0,0.5,1.2,0.5,0,0.3,0.8,0.3],
[0,0.7,0.3,0,0,0,0.5,1.8,9.2,13.0,5.0,0.7, 0.2,0.5,0.9,1.6,3.0,4.2,3.2,0.8,0.3,0.6,0.8,0.3,0,0,0.2,0.6,0.3,0, 0,0.4,1.0,0.4,0,0.3,0.8,0.4,0,0.4,1.1,0.5,0,0.3,0.8, 0.3,0,0.4,1.2,3.0,8.3,2.5,0.6,0,0.3,0.9,0.4,0,0.3,0.6],
[0,0.8,0.3,0,0,0,0.3,1.3,7.2,11.4,4.4,0.5, 0.2,0.4,0.8,1.5,2.8,4.0,3.0,0.7,0.3,0.5,0.7,0.3,0,0,0.2,0.5,0.2,0, 0,0.3,0.8,0.4,0,0.4,1.2,0.5,0,0,0.5,1.3,0.5,0,0.3, 0.8,0.3,0,0.4,1.1,0.4,0,0,0.5,1.2,0.5,0,0.3,0.8,0.3],
[0,0.6,0.2,0,0,0,0.2,1.0,6.4,12.8,5.6,0.8, 0.3,0.6,1.0,1.6,2.8,3.6,2.6,0.6,0.2,0.4,0.6,0.3,0,0,0.3,0.7,0.3,0, 0,0.2,0.6,0.3,0,0.3,0.9,0.4,0,0.4,1.2,0.5,0,0.3,0.9, 0.4,0,0,0.6,2.5,6.8,2.0,0.5,0,0.3,0.8,0.3,0,0.4,1.0],
[0,0.4,0.2,0,0,0,0.4,1.6,8.6,14.8,6.8,1.0, 0.3,0.7,1.0,1.8,3.2,4.6,3.4,0.8,0.3,0.6,0.9,0.4,0,0,0.3,0.7,0.3,0, 0,0.3,0.9,0.4,0,0.3,0.9,0.4,0,0.4,1.1,0.5,0,0.3,0.8, 0.3,0,0,0.5,1.3,0.5,0,0,0.4,1.1,0.4,0,0.5,1.6,3.1],
[0,0.7,0.3,0,0,0,0.3,1.2,7.0,12.2,4.8,0.6, 0.2,0.5,1.5,4.0,10.0,5.0,2.4,0.6,0.2,0.5,0.7,0.3,0,0,0.2,0.6,0.3,0, 0,0.3,0.8,0.3,0,0.3,1.0,0.4,0,0.4,1.2,0.5,0,0.3,0.8, 0.3,0,0,0.5,1.2,0.5,0,0,0.4,1.0,0.4,0,0.3,0.8,0.3],
[0,0.9,0.4,0,0,0,0.4,1.4,7.8,13.6,5.4,0.7, 0.2,0.5,0.9,1.6,2.8,3.8,2.8,0.7,0.3,0.5,0.8,0.3,0,0,0.2,0.5,0.2,0, 0,0.4,1.0,0.4,0,0.3,0.8,0.4,0,0.5,1.3,0.6,0,0.3,0.9, 0.4,0,0,0.5,1.4,0.6,0,0,0.4,1.1,0.5,0,0.3,0.9,0.4],
[0,0.6,0.2,0,0,0,0.5,2.2,10.2,17.5,8.5,1.4, 0.4,0.8,1.0,1.8,3.5,6.0,11.0,3.0,0.6,0.4,0.6,0.3,0,0,0.3,0.7,0.3,0, 0,0.3,0.8,0.3,0,0.4,1.1,0.5,0,0.3,0.9,0.4,0,0.4,1.1, 0.5,0,0,0.4,1.0,0.4,0,0,0.5,1.3,0.5,0,0.3,0.8,0.3],
[0,0.5,0.2,0,0,0,0.3,1.1,6.2,8.5,4.0,0.5, 0.2,0.5,0.8,1.4,2.6,3.4,2.4,0.6,0.2,0.4,0.6,0.3,0,0,0.2,0.5,0.2,0, 0,0.3,0.8,2.0,4.0,10.0,3.0,0.6,0,0.3,0.9,0.4,0,0.3,0.8, 0.3,0,0,0.5,1.5,3.5,2.0,1.0,6.7,2.0,0.4,0,0.3,0.8,0.3],
[0,0.8,0.3,0,0,0,0.2,0.9,5.6,12.6,5.2,0.7, 0.2,0.4,0.8,1.4,2.4,3.2,2.4,0.6,0.3,1.5,8.2,3.0,0.6,0,0.2,0.5,0.2,0, 0,0.3,0.7,0.3,0,0.4,1.1,0.4,0,0.3,0.9,0.4,0,0.3,0.8, 0.3,0,0,0.4,1.1,0.4,0,0,0.5,1.2,0.5,0,0.3,0.8,0.3],
[0,0.6,0.2,0,0,0,0.4,1.5,8.4,13.8,5.8,0.8, 0.3,0.6,0.9,1.6,2.8,3.8,2.8,0.7,0.3,0.5,0.7,0.3,0,0,0.2,0.5,0.2,0, 0,0.4,11.6,4.0,0.8,0.2,0,0.4,1.0,0.4,0,0.3,0.8,0.3,0, 0,0,0.4,1.0,0.4,0,0,0.5,1.2,0.5,0,0.3,0.9,2.0,4.5],
[0,0.7,0.3,0,0,0,0.3,1.2,6.6,11.8,4.6,0.6, 0.2,0.5,0.8,1.5,2.7,3.6,2.6,0.6,0.2,0.5,0.7,0.3,0,0,0.2,0.5,0.2,0, 0,0.3,0.8,0.3,0,0.3,0.9,0.4,0,2.5,9.2,11.8,4.0,0.8,0.2, 0,0.4,1.0,0.4,0,0,0.5,1.2,0.5,0,0.3,0.8,0.3,0,0.2],
[0,0.5,0.2,0.6,0,0,0.2,0.8,4.6,6.0,3.4,0.4, 0.1,0.3,0.6,1.2,2.2,3.0,2.2,0.5,0.2,0.4,0.6,0.2,0,0,0.2,0.4,0.1,0, 0,0.2,0.6,0.3,0,0.3,0.8,0.3,0,0.4,1.0,0.4,1.5,5.0,11.4, 3.0,0.6,0,0.3,0.8,0.3,0,0,0.4,1.0,0.4,0,0.3,0.7,0.3],
[0,0.8,0.3,0,0.3,0,0.3,1.3,7.4,12.4,5.0,0.6, 0.2,0.5,0.9,1.6,2.8,3.8,2.8,0.7,0.3,0.5,0.7,0.3,0,0,0.2,0.5,0.2,0, 0,0.3,0.8,0.3,0,0.4,1.1,0.5,0,0.3,0.9,0.4,0,0.3,0.8, 0.3,0,0,0.5,1.2,0.5,0,0,0.4,1.0,0.4,0,0.3,0.8,0.3],
[0,0.6,0.2,0,0,0,0.2,1.0,6.0,8.0,4.2,0.5, 0.2,0.4,0.8,1.4,2.6,3.4,2.4,0.6,0.2,0.4,0.6,0.3,0,0,0.2,0.5,0.2,0, 0,0.3,0.7,0.3,0,0.3,0.9,0.4,0,0.3,0.8,0.3,0,0.3,0.8, 0.3,0,0,0.4,1.0,0.4,0,0,0.4,1.0,0.4,0,0.8,5.0,19.0]
];

// ---------- helpers (layout only) ----------
const times = [];
for (let i = 0; i < nSteps; i++) {
  const d = new Date(Date.UTC(runStart[0], runStart[1], runStart[2], runStart[3]) + i * stepHours * 3600000);
  times.push(d.toISOString().slice(0, 16).replace('T', ' '));
}
const precipTimes = times.slice(1);

function turbo(t, a) {
  const r = 0.13572138 + t*(4.61539260 + t*(-42.66032258 + t*(132.13108234 + t*(-152.94239396 + t*59.28637943))));
  const g = 0.09140261 + t*(2.19418839 + t*(4.84296658 + t*(-14.18503333 + t*(4.27729857 + t*2.82956604))));
  const b = 0.10667330 + t*(12.64194608 + t*(-60.58204836 + t*(110.36276771 + t*(-89.90310912 + t*27.34824973))));
  const c = v => Math.max(0, Math.min(255, Math.round(v * 255)));
  return 'rgba(' + c(r) + ',' + c(g) + ',' + c(b) + ',' + a + ')';
}
const nMem = memberTemp.length;
const memberColor = k => turbo(0.04 + 0.92 * k / 49, 0.85);

// plot area in pixels: x 213..1725, y 181..1146
const PX = v => (v - 213) / 1512;
const PY = v => (1146 - v) / 965;

const GREEN = '#22d41c', WHITE = '#ffffff', RED = '#ef4a4f';

// ---------- traces ----------
const traces = [];
for (let k = 0; k < nMem; k++) {
  traces.push({x: times, y: memberTemp[k], type: 'scatter', mode: 'lines', yaxis: 'y',
    line: {color: memberColor(k), width: 1}, hoverinfo: 'skip', showlegend: false, name: 'P' + (k + 1)});
}
for (let k = 0; k < nMem; k++) {
  traces.push({x: precipTimes, y: memberPrecip[k], type: 'scatter', mode: 'lines', yaxis: 'y2',
    line: {color: memberColor(k), width: 1}, hoverinfo: 'skip', showlegend: false, name: 'P' + (k + 1) + ' RR'});
}
traces.push({x: times, y: climateTemp, type: 'scatter', mode: 'lines', yaxis: 'y', line: {color: RED, width: 4.5, shape: 'spline'}, showlegend: false, name: 'Klima 1991–2020'});
traces.push({x: times, y: ensMeanTemp, type: 'scatter', mode: 'lines', yaxis: 'y', line: {color: WHITE, width: 4}, showlegend: false, name: 'ENS-Mittel'});
traces.push({x: times, y: hauptlaufTemp, type: 'scatter', mode: 'lines', yaxis: 'y', line: {color: GREEN, width: 4.5}, showlegend: false, name: 'Hauptlauf AIFS Single'});
traces.push({x: precipTimes, y: ensMeanPrecip, type: 'scatter', mode: 'lines', yaxis: 'y2', line: {color: WHITE, width: 4}, showlegend: false, name: 'ENS-Mittel RR'});
traces.push({x: precipTimes, y: hauptlaufPrecip, type: 'scatter', mode: 'lines', yaxis: 'y2', line: {color: GREEN, width: 4.5}, showlegend: false, name: 'Hauptlauf RR'});

// ---------- decorations ----------
const shapes = [];
const annotations = [];
const FONT = 'DejaVu Sans';
shapes.push({type: 'rect', xref: 'paper', yref: 'paper', x0: PX(0), x1: PX(1824), y0: PY(169), y1: PY(0), fillcolor: '#111a25', line: {width: 0}, layer: 'below'});
shapes.push({type: 'rect', xref: 'paper', yref: 'paper', x0: PX(0), x1: PX(1824), y0: PY(1290), y1: PY(1202), fillcolor: '#111a25', line: {width: 0}, layer: 'below'});
shapes.push({type: 'line', xref: 'paper', yref: 'paper', x0: PX(0), x1: PX(1824), y0: PY(1202), y1: PY(1202), line: {color: '#263241', width: 1.5}});
shapes.push({type: 'line', xref: 'paper', yref: 'paper', x0: PX(327), x1: PX(327), y0: PY(28), y1: PY(142), line: {color: '#2a3545', width: 1}});
// logo
shapes.push({type: 'path', xref: 'paper', yref: 'paper',
  path: 'M ' + PX(83) + ' ' + PY(71) + ' L ' + PX(64.5) + ' ' + PY(110) + ' L ' + PX(107) + ' ' + PY(110) + ' Z',
  line: {color: '#1f63f0', width: 4}, fillcolor: 'rgba(0,0,0,0)'});
shapes.push({type: 'circle', xref: 'paper', yref: 'paper', x0: PX(91.5), x1: PX(100.5), y0: PY(85.5), y1: PY(76.5),
  fillcolor: '#4a8cff', line: {color: '#1f63f0', width: 1.5}});

annotations.push({xref: 'paper', yref: 'paper', x: PX(112), y: PY(91), xanchor: 'left', yanchor: 'middle', showarrow: false,
  text: '<b>Tauernwetter</b>', font: {family: FONT, size: 22, color: '#f4f6f9'}});
const kicker = 'ENSEMBLE · ECMWF AIFS-ENS'.split('').map(ch => ch === ' ' ? '\u00a0' : ch).join('\u00a0');
annotations.push({xref: 'paper', yref: 'paper', x: PX(337), y: PY(37), xanchor: 'left', yanchor: 'middle', showarrow: false,
  text: '<b>' + kicker + '</b>', font: {family: FONT, size: 13.5, color: '#9aa6b7'}});
annotations.push({xref: 'paper', yref: 'paper', x: PX(337), y: PY(69), xanchor: 'left', yanchor: 'middle', showarrow: false,
  text: '<b>850 hPa Temperatur &amp; Niederschlag</b>', font: {family: FONT, size: 28, color: '#f4f6f9'}});
annotations.push({xref: 'paper', yref: 'paper', x: PX(337), y: PY(112), xanchor: 'left', yanchor: 'middle', showarrow: false,
  text: 'Gitterpunkt 47,50° N · 10,50° O · 1263 m · Lauf 06.10.2026 06z · 50 Member <b>+</b> Hauptlauf AIFS Single',
  font: {family: FONT, size: 17, color: '#e8ad3c'}});
// footer
annotations.push({xref: 'paper', yref: 'paper', x: PX(30), y: PY(1234), xanchor: 'left', yanchor: 'middle', showarrow: false,
  text: '<b>tauernwetter.at</b>', font: {family: FONT, size: 14, color: '#eef1f5'}});
annotations.push({xref: 'paper', yref: 'paper', x: PX(1794), y: PY(1234), xanchor: 'right', yanchor: 'middle', showarrow: false,
  text: '<b>Daten: ECMWF (AIFS-ENS) – Lauf: 06.10.2026 06z</b>', font: {family: FONT, size: 14, color: '#b8c0cb'}});
// axis titles
annotations.push({xref: 'paper', yref: 'paper', x: PX(146), y: PY(663), xanchor: 'center', yanchor: 'middle', showarrow: false, textangle: -90,
  text: '<b>850 hPa Temperatur (°C)</b>', font: {family: FONT, size: 15, color: '#e6e9ee'}});
annotations.push({xref: 'paper', yref: 'paper', x: PX(1773), y: PY(663), xanchor: 'center', yanchor: 'middle', showarrow: false, textangle: -90,
  text: '<b>Niederschlag (l/m² je 6 h)</b>', font: {family: FONT, size: 15, color: '#e6e9ee'}});

// member legend (two columns)
for (let k = 0; k < nMem; k++) {
  const col = k < 25 ? 0 : 1, row = k % 25;
  const y = 184.7 + row * 30.9;
  const lx0 = col ? 94 : 12, lx1 = col ? 117 : 34, tx = col ? 120 : 37.5;
  shapes.push({type: 'line', xref: 'paper', yref: 'paper', x0: PX(lx0), x1: PX(lx1), y0: PY(y), y1: PY(y), line: {color: memberColor(k), width: 2}});
  annotations.push({xref: 'paper', yref: 'paper', x: PX(tx), y: PY(y), xanchor: 'left', yanchor: 'middle', showarrow: false,
    text: '<b>P' + (k + 1) + '</b>', font: {family: FONT, size: 10, color: '#e3e7ec'}});
}
// main legend
const mainLegend = [['Hauptlauf AIFS Single', GREEN, 986], ['ENS-Mittel', WHITE, 1026.5], ['Klima 1991–2020', RED, 1066.5]];
mainLegend.forEach(function (it) {
  shapes.push({type: 'line', xref: 'paper', yref: 'paper', x0: PX(15), x1: PX(49), y0: PY(it[2]), y1: PY(it[2]), line: {color: it[1], width: 4.5}});
  annotations.push({xref: 'paper', yref: 'paper', x: PX(54), y: PY(it[2]), xanchor: 'left', yanchor: 'middle', showarrow: false,
    text: '<b>' + it[0] + '</b>', font: {family: FONT, size: 12, color: '#e3e7ec'}});
});

const tickFont = {family: FONT, size: 15, color: '#e6e9ee', weight: 'bold'};
const layout = {
  width: 1824, height: 1290,
  margin: {l: 213, r: 99, t: 181, b: 144, pad: 0},
  paper_bgcolor: '#0e151d', plot_bgcolor: '#0c1219',
  font: {family: FONT, color: '#e6e9ee'},
  showlegend: false, hovermode: false,
  xaxis: {
    type: 'date', range: ['2026-10-05 14:00', '2026-10-22 02:00'],
    tick0: '2026-10-06', dtick: 86400000, tickformat: '%d.%m',
    ticks: 'outside', ticklen: 7, tickwidth: 1, tickcolor: '#8d97a3',
    minor: {dtick: 43200000, ticks: 'outside', ticklen: 4, tickcolor: '#8d97a3', showgrid: false},
    showgrid: true, gridcolor: '#1d2733', gridwidth: 1,
    showline: true, linecolor: '#3b4654', linewidth: 1, mirror: true,
    zeroline: false, tickfont: tickFont
  },
  yaxis: {
    range: [-21, 21], tickvals: [-20, -15, -10, -5, 0, 5, 10, 15, 20],
    ticks: 'outside', ticklen: 7, tickwidth: 1, tickcolor: '#8d97a3',
    showgrid: true, gridcolor: '#1d2733', gridwidth: 1,
    zeroline: true, zerolinecolor: '#7f8995', zerolinewidth: 1.5,
    showline: true, linecolor: '#3b4654', linewidth: 1, mirror: true,
    tickfont: tickFont
  },
  yaxis2: {
    overlaying: 'y', side: 'right', range: [0, 40], tickvals: [0, 5, 10, 15, 20, 25, 30, 35, 40],
    ticks: 'outside', ticklen: 7, tickwidth: 1, tickcolor: '#8d97a3',
    showgrid: false, zeroline: false, showline: true, linecolor: '#3b4654', linewidth: 1,
    tickfont: tickFont
  },
  shapes: shapes, annotations: annotations
};

Plotly.newPlot('chart', traces, layout, {displayModeBar: false, staticPlot: true});
</script>
</body>
</html>
